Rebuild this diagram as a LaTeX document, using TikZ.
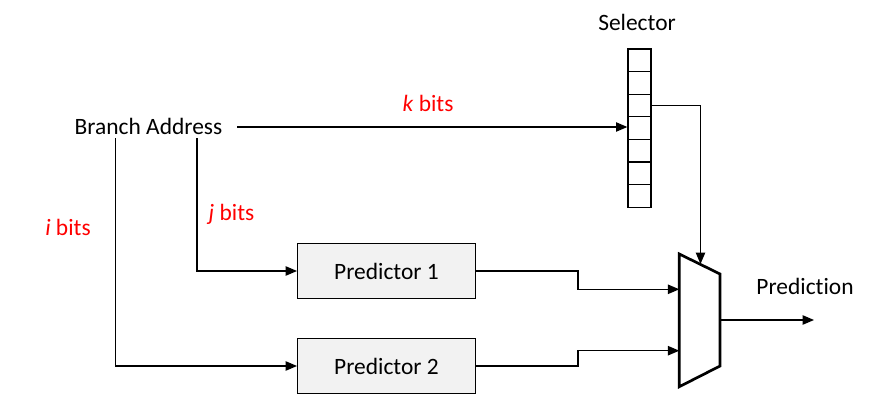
\documentclass[tikz,border=0pt]{standalone}
\usepackage{fontspec}
\setmainfont{Carlito}[Ligatures=NoCommon]
\usetikzlibrary{arrows.meta}

\begin{document}
\begin{tikzpicture}[x=0.03cm, y=-0.03cm, >={Triangle[length=3.4mm, width=2.8mm]},
  font=\fontsize{20}{24}\selectfont, line width=1pt,
  predbox/.style={draw, line width=1.1pt, fill=gray!10, minimum width=5.33cm, minimum height=1.64cm},
  selcell/.style={draw, line width=1.1pt, minimum width=0.69cm, minimum height=0.678cm, inner sep=0pt},
  bitlabel/.style={text=red}]

% Canvas
\useasboundingbox (0,0) rectangle (876,415);

% Branch address and its taps
\node[inner sep=0pt] (ba) at (148.5,126) {Branch Address};
\coordinate (baout) at (237,127);
\coordinate (tapI) at (115.3,138);
\coordinate (tapJ) at (197,138);

% Selector column
\node (sellab) at (637,22) {Selector};
\foreach \i in {1,...,7} {
  \node[selcell] (sel\i) at (639.5, {49+22.6*(\i-0.5)}) {};
}

% Predictors
\node[predbox] (pred1) at (386.5,271) {Predictor 1};
\node[predbox] (pred2) at (386.5,366) {Predictor 2};

% Multiplexer
\draw[line width=2.3pt, fill=white] (679.3,254) -- (720,274) -- (720,366) -- (679.3,386.7) -- cycle;
\coordinate (muxsel) at (700.5,264);
\coordinate (muxin1) at (679.3,289.3);
\coordinate (muxin2) at (679.3,350.7);
\coordinate (muxout) at (720,320);
\coordinate (outend) at (814,320);
\node (predlab) at (805,286) {Prediction};

% Connectors
\draw[->] (baout) -- (baout -| sel4.west);
\draw[->] (sel3.east) -| (muxsel);
\draw[->] (tapJ) |- (pred1.west);
\draw[->] (tapI) |- (pred2.west);
\draw[->] (pred1.east) -- ++(102,0) |- (muxin1);
\draw[->] (pred2.east) -- ++(102,0) |- (muxin2);
\draw[->] (muxout) -- (outend);

% Bit widths
\node[bitlabel] (kbits) at (428,103) {\textit{k} bits};
\node[bitlabel] (jbits) at (231.5,214) {\textit{j} bits};
\node[bitlabel] (ibits) at (68,227) {\textit{i} bits};

\end{tikzpicture}
\end{document}
